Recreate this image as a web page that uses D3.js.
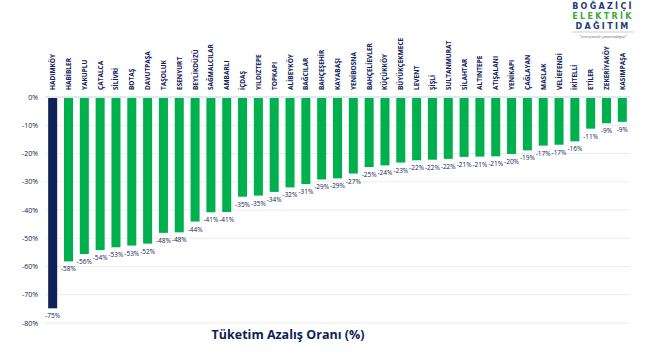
<!DOCTYPE html>
<html>
<head>
<meta charset="utf-8">
<script src="https://cdn.jsdelivr.net/npm/d3@7"></script>
<style>
  body { margin: 0; background: #fff; }
  svg { display: block; font-family: "Open Sans", "Noto Sans", sans-serif; }
</style>
</head>
<body>
<script>
// districts and consumption drop (%)
var districts = ["HADIMKÖY","HABİBLER","YAKUPLU","ÇATALCA","SİLİVRİ","BOTAŞ","DAVUTPAŞA","TAŞOLUK","ESENYURT","BEYLİKDÜZÜ",
  "SAĞMALCILAR","AMBARLI","İÇDAŞ","YILDIZTEPE","TOPKAPI","ALİBEYKÖY","BAĞCILAR","BAHÇEŞEHİR","KAYABAŞI","YENİBOSNA",
  "BAHÇELİEVLER","KÜÇÜKKÖY","BÜYÜKÇEKMECE","LEVENT","ŞİŞLİ","SULTANMURAT","SİLAHTAR","ALTINTEPE","ATIŞALANI","YENİKAPI",
  "ÇAĞLAYAN","MASLAK","VELİEFENDİ","İKİTELLİ","ETİLER","ZEKERİYAKÖY","KASIMPAŞA"];
var drops = [-74.8,-58.2,-55.6,-54.2,-53.2,-52.6,-51.9,-48.1,-47.9,-44.1,
  -40.8,-40.7,-35.3,-34.9,-33.6,-32.0,-30.8,-29.2,-28.8,-27.1,
  -24.8,-24.2,-23.2,-22.4,-22.2,-21.9,-21.2,-21.1,-21.0,-20.2,
  -18.9,-17.2,-16.9,-15.7,-11.2,-9.3,-8.8];
var yTicks = [0,-10,-20,-30,-40,-50,-60,-70,-80];
var logoLines = ["BOĞAZİÇİ","ELEKTRİK","DAĞITIM"];

var navy = "#0f2257", green = "#00b04f";

var margin = {top:97, left:45, right:20},
  W = 650, H = 360,
  width = W - margin.left - margin.right;

var svg = d3.select("body").append("svg").attr("width", W).attr("height", H);

var x = d3.scaleBand().domain(districts).range([margin.left, margin.left + width]).paddingInner(0.43).paddingOuter(0.2);
var y = d3.scaleLinear().domain([0, -80]).range([97, 323]);

//gridlines
svg.append("g").selectAll("line").data(yTicks).enter().append("line")
  .attr("x1", margin.left).attr("x2", margin.left + width)
  .attr("y1", function(d){ return y(d); }).attr("y2", function(d){ return y(d); })
  .attr("stroke", function(d){ return d === 0 ? "#c8d0e0" : "#ececec"; })
  .attr("stroke-width", 1);

//y axis labels
svg.append("g").selectAll("text").data(yTicks).enter().append("text")
  .attr("x", 38).attr("y", function(d){ return y(d) + 2.5; })
  .attr("text-anchor", "end")
  .attr("font-size", 7).attr("fill", navy)
  .text(function(d){ return d + "%"; });

//bars
svg.append("g").selectAll("rect").data(districts).enter().append("rect")
  .attr("x", function(d){ return x(d); })
  .attr("width", x.bandwidth())
  .attr("y", y(0) + 1)
  .attr("height", function(d, i){ return y(drops[i]) - y(0) - 1; })
  .attr("fill", function(d, i){ return i === 0 ? navy : green; });

//value labels
svg.append("g").selectAll("text").data(districts).enter().append("text")
  .attr("x", function(d){ return x(d) + x.bandwidth() / 2; })
  .attr("y", function(d, i){ return y(drops[i]) + 10; })
  .attr("text-anchor", "middle")
  .attr("font-size", 6.5).attr("fill", navy)
  .text(function(d, i){ return Math.round(drops[i]) + "%"; });

//district names
svg.append("g").selectAll("text").data(districts).enter().append("text")
  .attr("transform", function(d){ return "translate(" + (x(d) + x.bandwidth() / 2 + 2.5) + ",90) rotate(-90)"; })
  .attr("font-size", 6.5).attr("font-weight", "bold").attr("fill", navy)
  .text(function(d){ return d; });

//title
svg.append("text")
  .attr("x", 288).attr("y", 339)
  .attr("text-anchor", "middle")
  .attr("font-size", 12.5).attr("font-weight", "bold").attr("fill", navy)
  .text("Tüketim Azalış Oranı (%)");

//logo
var logo = svg.append("g");
logo.selectAll("text.l").data(logoLines).enter().append("text")
  .attr("class", "l")
  .attr("x", 603).attr("y", function(d, i){ return 8.5 + i * 10.3; })
  .attr("text-anchor", "middle")
  .attr("font-size", 8).attr("font-weight", "bold")
  .attr("letter-spacing", 2.3)
  .attr("font-family", "DejaVu Sans")
  .attr("fill", function(d, i){ return i === 1 ? "#3aaa35" : "#1f3b7a"; })
  .text(function(d){ return d; });
logo.append("line").attr("x1", 572).attr("x2", 634).attr("y1", 32).attr("y2", 32)
  .attr("stroke", "#999").attr("stroke-width", 0.5);
logo.append("text").attr("x", 603).attr("y", 37.5).attr("text-anchor", "middle")
  .attr("font-size", 4.2).attr("font-style", "italic").attr("fill", "#666")
  .text("\"enerjimizle yanınızdayız\"");
</script>
</body>
</html>
